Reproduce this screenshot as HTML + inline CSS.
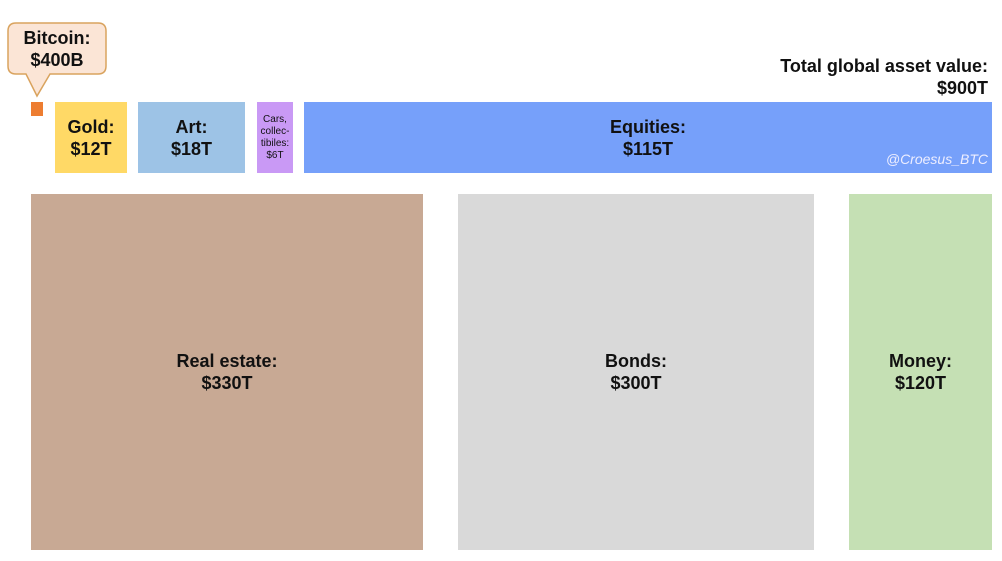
<!DOCTYPE html>
<html><head><style>
body{margin:0;width:1002px;height:561px;background:#fff;position:relative;overflow:hidden;font-family:"Liberation Sans",sans-serif;font-weight:bold;color:#111}
.b{position:absolute;display:flex;align-items:center;justify-content:center;text-align:center;font-size:18px;line-height:22px}
</style></head><body>
<svg style="position:absolute;left:0;top:0" width="1002" height="561">
<path d="M16,23 H98 Q106,23 106,31 V66 Q106,74 98,74 H50 L37,96 L26,74 H16 Q8,74 8,66 V31 Q8,23 16,23 Z" fill="#FBE5D6" stroke="#D9A35E" stroke-width="1.5"/>
</svg>
<div class="b" style="left:8px;top:25px;width:98px;height:48px">Bitcoin:<br>$400B</div>
<div class="b" style="left:31px;top:102px;width:12px;height:14px;background:#ED7D31"></div>
<div class="b" style="left:55px;top:102px;width:72px;height:71px;background:#FFD966">Gold:<br>$12T</div>
<div class="b" style="left:138px;top:102px;width:107px;height:71px;background:#9DC3E6">Art:<br>$18T</div>
<div class="b" style="left:257px;top:102px;width:36px;height:71px;background:#C999F5;font-size:10px;line-height:12px;font-weight:normal">Cars,<br>collec-<br>tibiles:<br>$6T</div>
<div class="b" style="left:304px;top:102px;width:688px;height:71px;background:#76A0FA">Equities:<br>$115T</div>
<div style="position:absolute;right:14px;top:151px;color:#eef;font-style:italic;font-weight:normal;font-size:14px">@Croesus_BTC</div>
<div style="position:absolute;right:14px;top:55px;text-align:right;font-size:18px;line-height:22px">Total global asset value:<br>$900T</div>
<div class="b" style="left:31px;top:194px;width:392px;height:356px;background:#C8A994">Real estate:<br>$330T</div>
<div class="b" style="left:458px;top:194px;width:356px;height:356px;background:#D9D9D9">Bonds:<br>$300T</div>
<div class="b" style="left:849px;top:194px;width:143px;height:356px;background:#C5E0B4">Money:<br>$120T</div>
</body></html>
